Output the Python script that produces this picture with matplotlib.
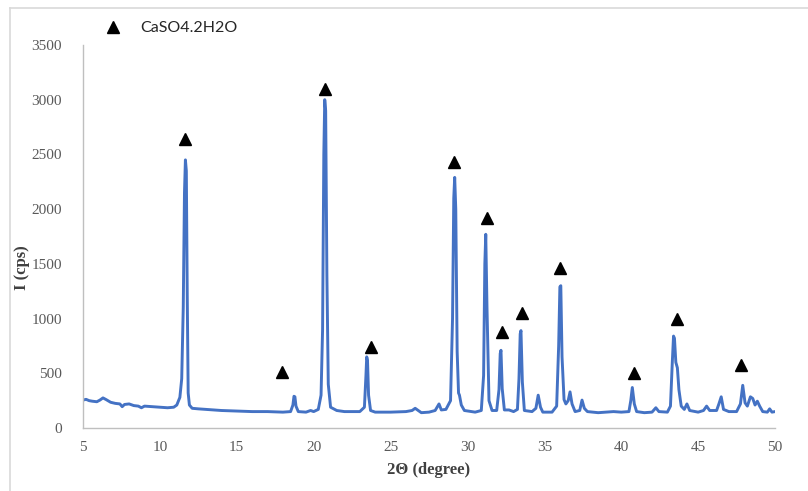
import matplotlib
matplotlib.use('Agg')
import matplotlib.pyplot as plt
from matplotlib.lines import Line2D

# XRD pattern, points
two_theta = [5.0, 5.2, 5.4, 5.6, 5.9, 6.1, 6.3, 6.5, 6.8, 7.1, 7.4, 7.55, 7.7, 8.0, 8.3, 8.6, 8.8,
             9.0, 9.5, 10.0, 10.5, 10.9, 11.1, 11.3, 11.42, 11.52, 11.6, 11.66, 11.72, 11.78, 11.84, 11.92,
             12.1, 12.5, 13.0, 14.0, 15.0, 16.0, 17.0, 18.0, 18.5, 18.65, 18.72, 18.78, 18.85, 19.0,
             19.5, 19.8, 20.0, 20.3, 20.48, 20.58, 20.66, 20.72, 20.78, 20.86, 20.95, 21.1, 21.5, 22.0, 23.0,
             23.3, 23.4, 23.45, 23.5, 23.57, 23.7, 24.0, 25.0, 26.0, 26.4, 26.6, 26.8, 27.0, 27.5,
             27.9, 28.15, 28.3, 28.6, 28.9, 29.03, 29.11, 29.17, 29.24, 29.33, 29.42, 29.48, 29.6, 29.8,
             30.5, 30.9, 31.05, 31.13, 31.19, 31.27, 31.4, 31.6, 31.9, 32.05, 32.13, 32.18, 32.26, 32.4,
             32.7, 33.0, 33.25, 33.35, 33.43, 33.48, 33.57, 33.7, 34.2, 34.45, 34.6, 34.75, 34.9,
             35.5, 35.8, 35.93, 36.01, 36.07, 36.15, 36.28, 36.4, 36.55, 36.67, 36.8, 37.0, 37.3,
             37.45, 37.6, 37.8, 38.5, 39.0, 39.5, 40.0, 40.5, 40.62, 40.72, 40.85, 41.0, 41.5,
             42.0, 42.25, 42.45, 43.0, 43.2, 43.32, 43.4, 43.46, 43.55, 43.65, 43.75, 43.9, 44.1,
             44.27, 44.45, 45.0, 45.35, 45.55, 45.75, 46.2, 46.35, 46.5, 46.65, 47.0, 47.5,
             47.75, 47.9, 48.05, 48.2, 48.4, 48.55, 48.7, 48.85, 49.0, 49.2, 49.5, 49.65,
             49.8, 50.0]
intensity = [255, 262, 250, 245, 240, 255, 275, 260, 235, 225, 220, 195, 215, 220, 205, 200, 185,
             200, 195, 190, 185, 190, 210, 280, 450, 1100, 2150, 2450, 2350, 1200, 320, 210,
             180, 175, 170, 160, 155, 150, 150, 145, 150, 210, 290, 285, 200, 150,
             145, 160, 150, 170, 300, 900, 2500, 3000, 2900, 1400, 400, 190, 160, 150, 150,
             190, 480, 650, 620, 300, 160, 145, 145, 150, 160, 180, 160, 140, 145,
             160, 220, 165, 170, 250, 1000, 2100, 2290, 2000, 700, 320, 300, 210, 160,
             145, 160, 480, 1500, 1770, 1100, 250, 160, 160, 350, 680, 710, 360, 165,
             165, 150, 170, 450, 860, 890, 420, 160, 150, 180, 300, 190, 145,
             145, 200, 750, 1290, 1300, 650, 260, 220, 250, 330, 220, 150, 160,
             255, 180, 150, 140, 145, 150, 145, 150, 250, 370, 220, 150, 140,
             145, 185, 150, 145, 200, 600, 840, 820, 600, 550, 350, 200, 170,
             220, 160, 145, 160, 200, 160, 160, 220, 285, 170, 150, 150,
             220, 390, 230, 200, 285, 270, 210, 245, 200, 150, 145, 175,
             145, 150]

# CaSO4.2H2O reflection markers
mark_x = [11.65, 17.95, 20.75, 23.73, 29.12, 31.25, 32.22, 33.52, 36.0, 40.82, 43.6, 47.77]
mark_y = [2640, 510, 3100, 740, 2435, 1920, 877, 1055, 1465, 505, 1000, 578]

legend_label = 'CaSO4.2H2O'

fig = plt.figure(figsize=(8.08, 4.91), dpi=100)
ax = fig.add_axes([0.1027, 0.1283, 0.8565, 0.7801])

ax.plot(two_theta, intensity, color='#4472C4', linewidth=2.1, solid_joinstyle='round')
ax.plot(mark_x, mark_y, linestyle='none', marker='^', color='black', markersize=8.5)

ax.set_xlim(5, 50)
ax.set_ylim(0, 3500)
ax.set_xticks(range(5, 51, 5))
ax.set_yticks(range(0, 3501, 500))

for s in ['top', 'right']:
    ax.spines[s].set_visible(False)
for s in ['left', 'bottom']:
    ax.spines[s].set_color('#BFBFBF')
    ax.spines[s].set_linewidth(1.0)

ax.tick_params(length=0, labelsize=11, labelcolor='#595959')
ax.tick_params(axis='y', pad=15)
ax.tick_params(axis='x', pad=9)
for lbl in ax.get_xticklabels() + ax.get_yticklabels():
    lbl.set_family('Liberation Serif')

ax.set_xlabel('2Θ (degree)', family='Liberation Serif', fontweight='bold',
              fontsize=12, color='#404040', labelpad=6)
ax.set_ylabel('I (cps)', family='Liberation Serif', fontweight='bold',
              fontsize=12, color='#404040')
ax.yaxis.set_label_coords(-0.076, 0.42)

handle = Line2D([], [], linestyle='none', marker='^', color='black', markersize=8.5)
ax.legend([handle], [legend_label], loc='upper left', bbox_to_anchor=(0.0, 1.1),
          frameon=False, handletextpad=0.7, prop={'family': 'Lato', 'size': 11.5},
          labelcolor='#262626')

# light frame lines at the top and left edge of the picture
fig.add_artist(Line2D([10 / 808, 1], [1 - 8 / 491, 1 - 8 / 491], color='#D9D9D9', linewidth=1.2))
fig.add_artist(Line2D([10 / 808, 10 / 808], [0, 1 - 8 / 491], color='#D9D9D9', linewidth=1.2))

fig.savefig('out.png', dpi=100)
